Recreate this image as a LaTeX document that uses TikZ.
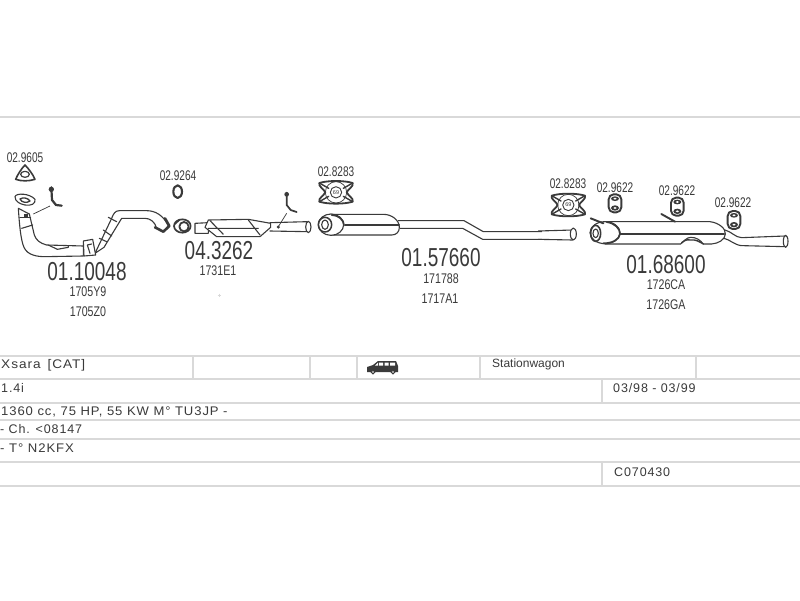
\documentclass[tikz,border=0pt]{standalone}
\usepackage{fontspec}
\setmainfont{Liberation Sans}
\newfontfamily\cellfont[LetterSpace=7]{Liberation Sans}
\definecolor{ink}{HTML}{3A3A3A}
\definecolor{rule}{HTML}{D9D9D9}
\tikzset{
  x=1pt,y=-1pt,
  pipe/.style={draw=ink,line width=1.1pt,line join=round,line cap=round},
  body/.style={pipe,fill=white},
  heavy/.style={draw=ink,line width=1.9pt,line cap=round,line join=round},
  thin/.style={draw=ink,line width=.7pt},
  grid/.style={draw=rule,line width=1.5pt},
  partno/.style={text=ink,inner sep=0pt,font=\fontsize{26}{26}\selectfont,xscale=.73},
  refno/.style={text=ink,inner sep=0pt,font=\fontsize{14}{14}\selectfont,xscale=.76},
  acc/.style={text=ink,inner sep=0pt,font=\fontsize{14}{14}\selectfont,xscale=.72},
  cell/.style={text=ink,inner sep=0pt,anchor=west,font=\cellfont\fontsize{12.5}{13}\selectfont},
  clamp/.pic={
    \draw[heavy,line width=1.8pt] (-50,-28) .. controls (-25,-36) and (25,-36) .. (50,-28)
      .. controls (54,-18) and (36,-10) .. (32,0) .. controls (36,10) and (54,18) .. (50,28)
      .. controls (25,36) and (-25,36) .. (-50,28)
      .. controls (-54,18) and (-36,10) .. (-32,0) .. controls (-36,-10) and (-54,-18) .. (-50,-28) -- cycle;
    \draw[heavy,line width=1.4pt] (-50,-28) -- (-22,-12) (50,-28) -- (22,-12) (-50,28) -- (-22,12) (50,28) -- (22,12);
    \draw[thin] (0,0) circle (32);
    \draw[body,line width=.9pt] (0,0) circle (17);
    \node[text=ink,inner sep=0pt,font=\fontsize{5.5}{5.5}\selectfont] (-num) at (0,0) {69};
  },
  hanger/.pic={
    \draw[heavy,fill=white,rounded corners=5pt] (-19,-27) rectangle (19,27);
    \fill[ink] (0,-14) ellipse (12 and 7);
    \fill[ink] (0,14) ellipse (12 and 8);
    \fill[white] (0,-14) ellipse (5 and 3);
    \fill[white] (0,14) ellipse (5 and 3);
  }
}
\begin{document}
\begin{tikzpicture}
\useasboundingbox (0,0) rectangle (800,600);
\fill[white] (0,0) rectangle (800,600);

% table
\draw[grid] (0,117) -- (800,117);
\foreach \y in {356,379,403,420,439,462,486} \draw[grid] (0,\y) -- (800,\y);
\foreach \x in {193,310,357,480,696} \draw[grid] (\x,356) -- (\x,379);
\draw[grid] (602,379) -- (602,403);
\draw[grid] (602,462) -- (602,486);

% front pipe 01.10048
\begin{scope}[shift={(0,140)},scale=1/3]
  \draw[heavy,line width=1.6pt,fill=white] (75,75) .. controls (85,85) and (100,105) .. (105,118) .. controls (85,124) and (65,124) .. (47,118) .. controls (52,105) and (65,85) .. (75,75) -- cycle;
  \draw[heavy,line width=1.2pt] (75,103) ellipse (13 and 9);
  \draw[heavy,line width=2.2pt] (154,142) -- (156,180) -- (168,195) -- (185,197);
  \fill[ink] (154,148) circle (8);
  \draw[thin] (150,198) -- (100,222);
  \draw[body] (55,205) .. controls (58,250) and (62,300) .. (72,322) .. controls (82,345) and (110,350) .. (135,350) -- (250,348) -- (250,318) -- (140,315) .. controls (120,310) and (108,300) .. (103,285) -- (88,222) -- cycle;
  \draw[pipe] (145,315) -- (172,328) -- (205,322) -- (205,317);
  \draw[pipe] (60,232) -- (92,232);
  \draw[pipe] (65,265) -- (98,255);
  \fill[ink] (73,222) rectangle (83,232);
  \draw[body] (45,170) .. controls (48,158) and (90,160) .. (105,178) .. controls (108,192) and (92,198) .. (75,195) .. controls (60,192) and (45,185) .. (45,170) -- cycle;
  \draw[pipe,line width=1.3pt] (60,177) .. controls (70,170) and (85,175) .. (90,183) .. controls (80,190) and (65,188) .. (60,177) -- cycle;
  \draw[body] (285,340) -- (335,235) .. controls (340,222) and (345,212) .. (358,212) -- (440,212) .. controls (465,212) and (490,225) .. (505,258) -- (490,275) -- (470,265) .. controls (465,245) and (450,235) .. (435,235) -- (365,235) -- (312,322) -- cycle;
  \draw[pipe] (325,232) -- (350,245);
  \draw[pipe] (310,270) -- (335,288);
  \draw[pipe] (298,295) -- (320,305);
  \draw[body] (250,303) -- (278,298) -- (287,345) -- (252,348) -- cycle;
  \draw[pipe] (262,315) -- (270,340) (262,315) -- (275,312);
  \draw[heavy,line width=2.6pt] (495,235) -- (508,258) -- (490,275) -- (465,262);
\end{scope}

% ring 02.9264 and catalyst 04.3262
\begin{scope}[shift={(0,140)},scale=1/3]
  \draw[heavy,line width=2.1pt] (533,155) ellipse (13 and 19);
  \draw[body] (585,250) -- (625,248) -- (625,280) -- (585,280) -- cycle;
  \draw[body] (745,238) -- (625,240) -- (615,262) -- (650,290) -- (780,290) -- (812,262) -- (812,250) -- cycle;
  \draw[pipe] (630,242) -- (670,283) (745,240) -- (780,285) (625,265) -- (775,265);
  \draw[heavy,fill=white,line width=1.7pt] (547,258) ellipse (25 and 20);
  \draw[heavy,line width=1.8pt] (552,260) ellipse (14 and 14);
  \draw[heavy,line width=1.5pt] (525,252) -- (538,240);
\end{scope}

% connecting pipe and 01.57660
\begin{scope}[shift={(270,150)},scale=1/3]
  \draw[pipe] (0,218) -- (112,215) (0,243) -- (112,245);
  \draw[body] (115,231) ellipse (8 and 17);
  \draw[heavy,line width=1.7pt] (50,128) -- (50,165) -- (62,180) -- (80,186);
  \fill[ink] (50,133) circle (7);
  \draw[thin] (50,190) -- (25,230);
  \fill[ink] (25,231) circle (5);
  \draw[pipe] (385,212) -- (582,212) -- (640,245) -- (815,245);
  \draw[pipe] (390,235) -- (578,235) -- (638,268) -- (815,268);
  \draw[body] (180,193) -- (340,193) .. controls (365,193) and (388,210) .. (388,232) .. controls (388,245) and (380,255) .. (365,255) -- (180,255);
  \draw[pipe] (225,225) -- (388,225);
  \draw[body] (183,224) ellipse (38 and 32);
  \draw[heavy,line width=1.5pt] (165,224) ellipse (20 and 22);
  \draw[pipe] (165,224) ellipse (10 and 14);
  \draw[heavy,line width=1.7pt] (185,195) .. controls (205,195) and (222,210) .. (222,226);
  \pic[scale=1/3] at (198,127) {clamp};
\end{scope}

% 01.68600
\begin{scope}[shift={(540,160)},scale=1/3]
  \draw[pipe] (-5,213) -- (98,210) (-5,238) -- (98,240);
  \draw[body] (100,222) ellipse (9 and 18);
  \pic[scale=1/3] at (85,135) {clamp};
  \pic[scale=1/3] at (225,130) {hanger};
  \pic[scale=1/3] at (412,140) {hanger};
  \pic[scale=1/3] at (582,180) {hanger};
  \draw[pipe] (555,210) .. controls (575,215) and (585,232) .. (605,233) -- (735,228);
  \draw[pipe] (552,235) .. controls (570,238) and (585,258) .. (610,257) -- (735,260);
  \draw[body] (737,244) ellipse (7 and 18);
  \draw[body] (195,185) -- (510,185) .. controls (535,188) and (558,205) .. (556,222) .. controls (555,240) and (535,250) .. (515,252) -- (490,252) .. controls (480,240) and (470,232) .. (452,232) .. controls (440,232) and (430,245) .. (422,252) -- (195,252);
  \draw[pipe] (240,222) -- (553,222);
  \draw[pipe,line width=1.4pt] (425,248) .. controls (438,238) and (445,238) .. (452,240) .. controls (468,238) and (478,245) .. (490,252);
  \draw[body] (195,218) ellipse (45 and 33);
  \draw[heavy,line width=1.7pt] (200,186) .. controls (225,190) and (240,205) .. (240,222) .. controls (238,240) and (215,250) .. (190,250);
  \draw[heavy,line width=1.6pt] (167,220) ellipse (15 and 24);
  \draw[pipe] (167,220) ellipse (8 and 13);
  \draw[heavy] (152,175) -- (190,190);
  \draw[heavy] (364,162) -- (405,185);
\end{scope}

% van icon
\draw[draw=none,fill=ink] (367,372) -- (367,367) -- (373,365) -- (378,361) -- (396,361) -- (398,366) -- (398,372) -- cycle;
\fill[white] (379,362.5) rectangle (383,365.5) (384.5,362.5) rectangle (388.5,365.5) (390,362.5) rectangle (395,365.5);
\fill[white] (375,365.5) -- (378,362.5) -- (378,365.5) -- cycle;
\draw[draw=ink,fill=white,line width=1pt] (373,372) circle (1.8) (393,372) circle (1.8);

% speck
\draw[draw=rule,line width=.5pt] (217.5,295) -- (220.5,295) (219,293.5) -- (219,296.5);

% part numbers
\node[partno] (p1) at (87,272) {01.10048};
\node[partno] (p2) at (219,251) {04.3262};
\node[partno] (p3) at (441,258) {01.57660};
\node[partno] (p4) at (666,265) {01.68600};

\node[refno] (r1a) at (88,292) {1705Y9};
\node[refno] (r1b) at (88,312) {1705Z0};
\node[refno] (r2a) at (218,271) {1731E1};
\node[refno] (r3a) at (441,279) {171788};
\node[refno] (r3b) at (440,299) {1717A1};
\node[refno] (r4a) at (666,285) {1726CA};
\node[refno] (r4b) at (666,305) {1726GA};

\node[acc] (a1) at (25,158) {02.9605};
\node[acc] (a2) at (178,176) {02.9264};
\node[acc] (a3) at (336,172) {02.8283};
\node[acc] (a4) at (568,184) {02.8283};
\node[acc] (a5) at (615,188) {02.9622};
\node[acc] (a6) at (677,191) {02.9622};
\node[acc] (a7) at (733,203) {02.9622};

% table text
\node[cell,xscale=1.09] (t1) at (1,365) {Xsara\, [CAT]};
\node[cell] (t2) at (1,388) {1.4i};
\node[cell,xscale=1.045] (t3) at (1,412) {1360 cc, 75 HP, 55 KW M° TU3JP -};
\node[cell] (t4) at (0,429) {- Ch. <08147};
\node[cell,xscale=1.05] (t5) at (0,448) {- T° N2KFX};
\node[cell,font=\fontsize{12}{12}\selectfont] (t6) at (492,364) {Stationwagon};
\node[cell] (t7) at (613,388) {03/98 - 03/99};
\node[cell] (t8) at (614,472) {C070430};
\end{tikzpicture}
\end{document}
